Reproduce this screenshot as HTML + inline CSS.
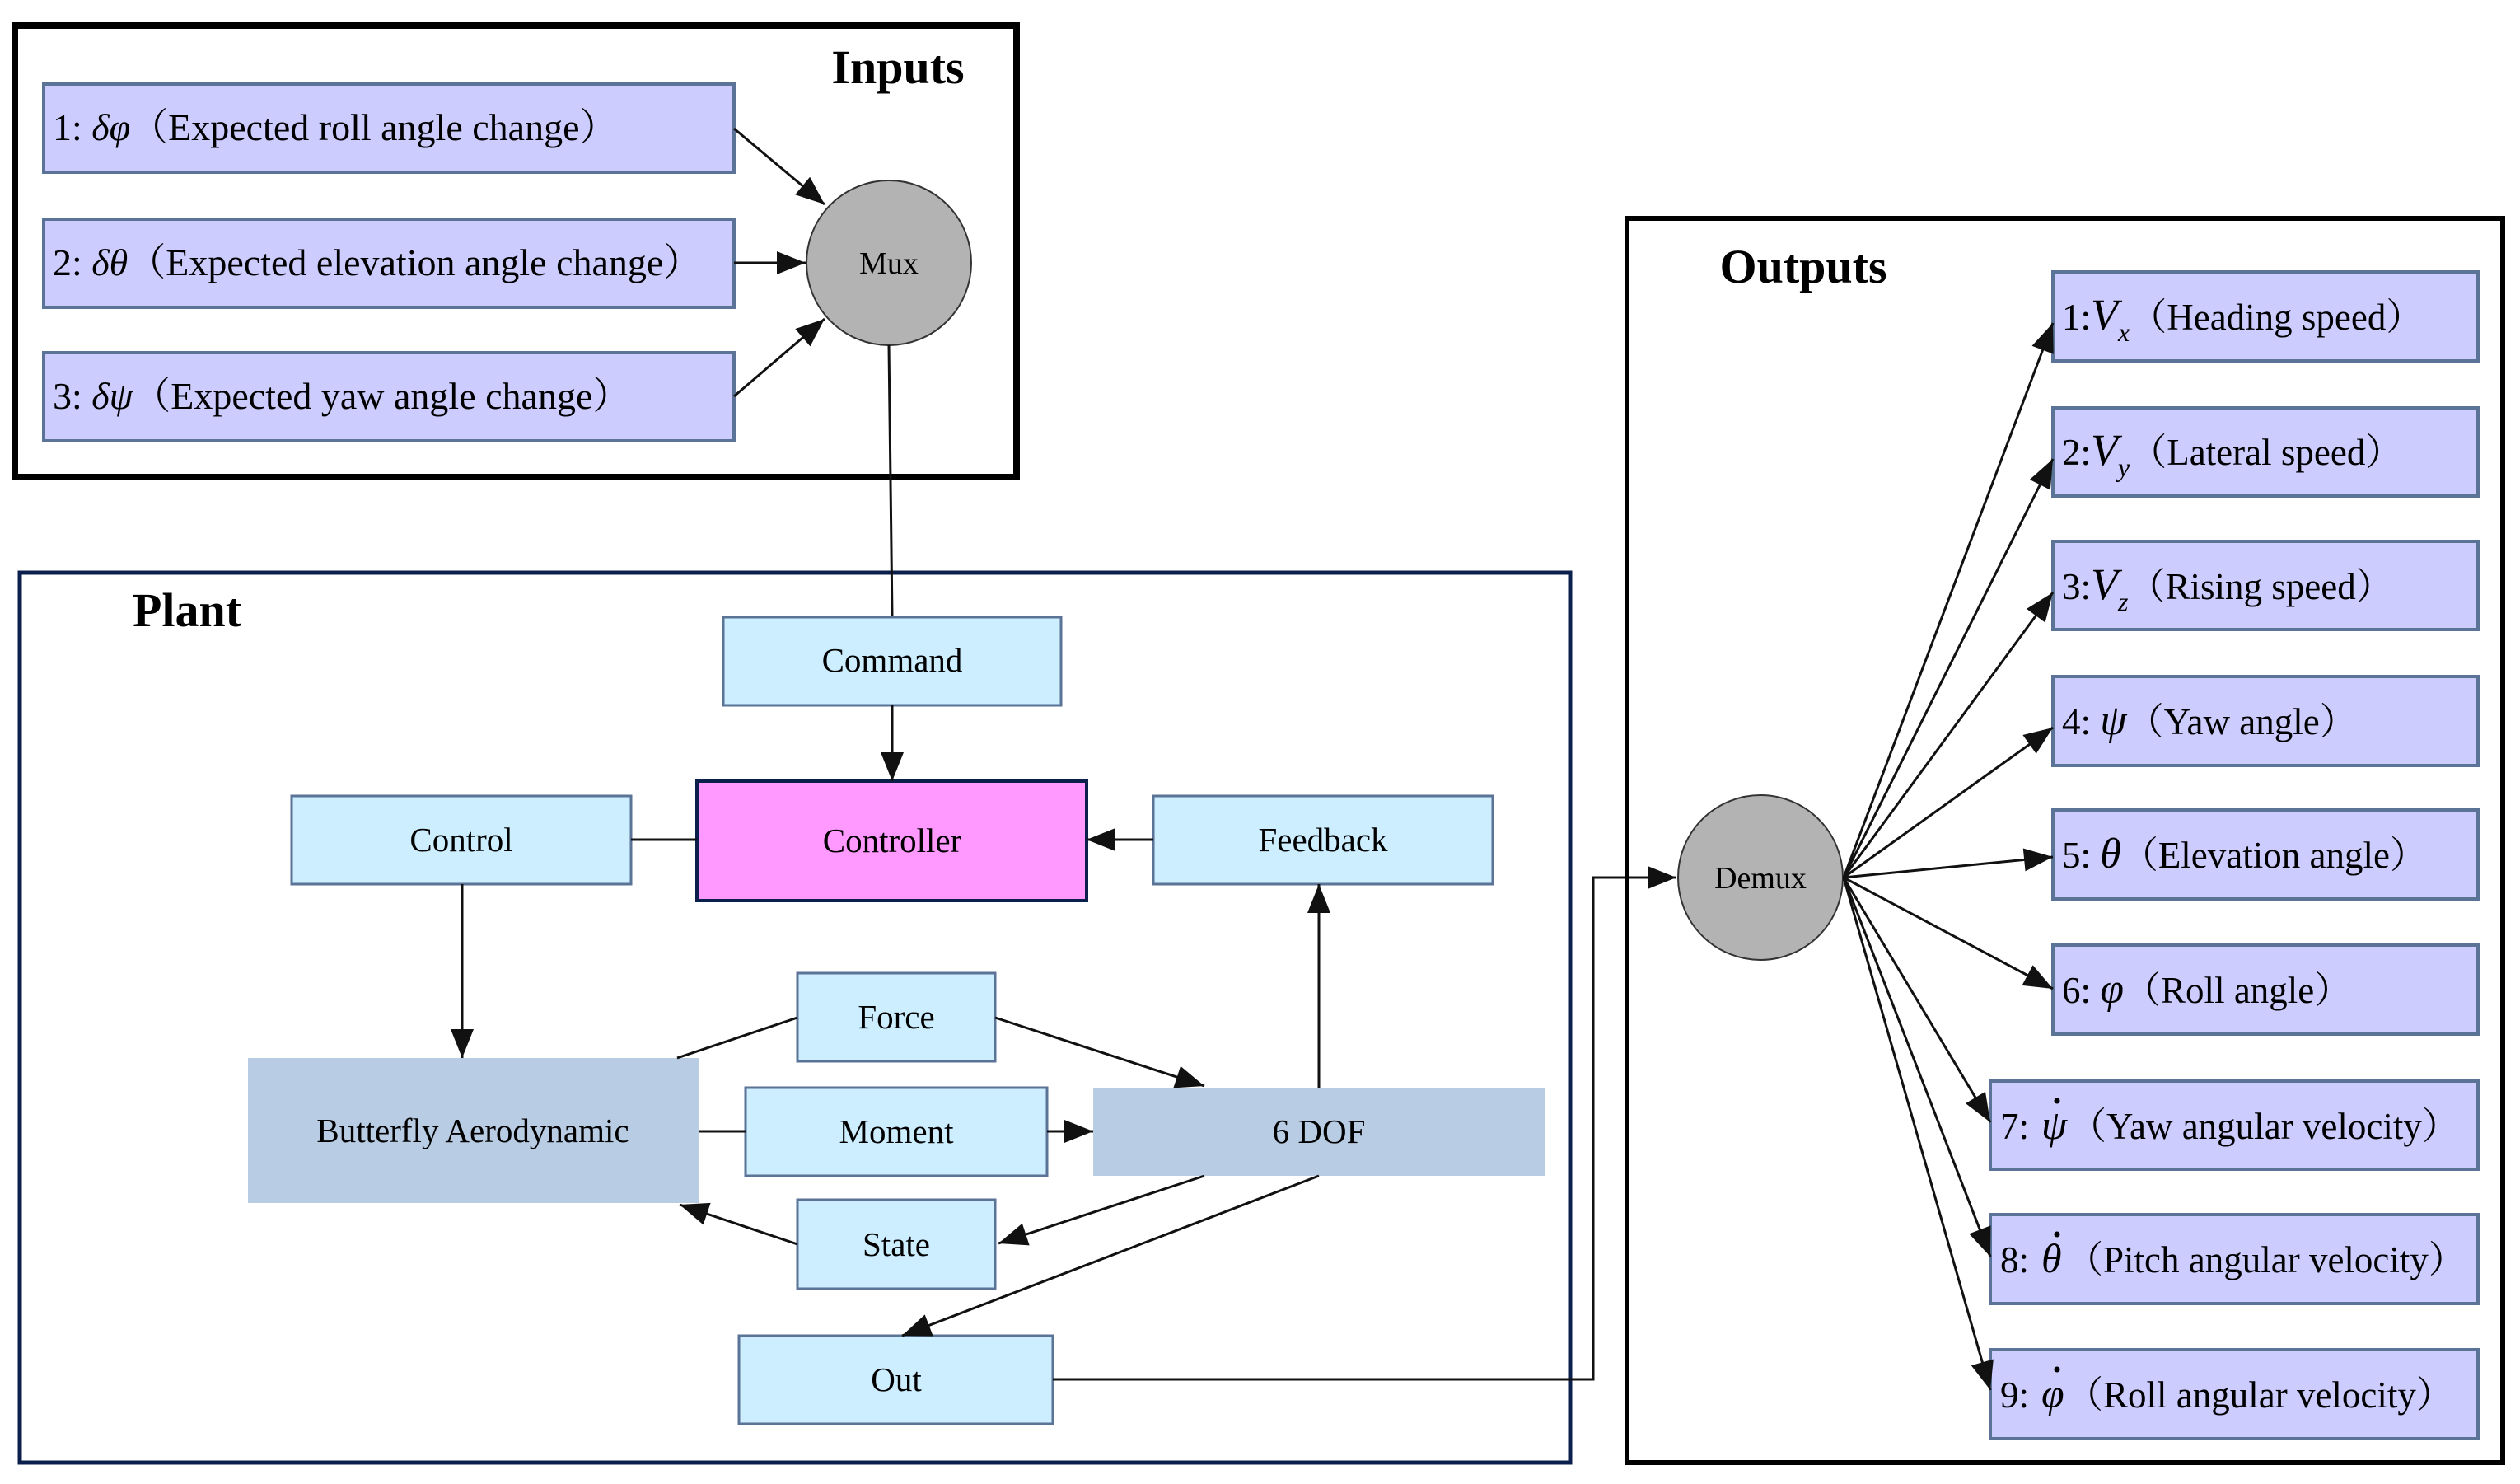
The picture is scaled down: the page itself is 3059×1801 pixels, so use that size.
<!DOCTYPE html>
<html><head><meta charset="utf-8"><style>
html,body{margin:0;padding:0;background:#fff;}
svg{display:block;}
text{font-family:"Liberation Serif","Noto Serif CJK SC",serif;}
</style></head><body>
<svg width="3059" height="1801" viewBox="0 0 3059 1801" xmlns="http://www.w3.org/2000/svg">
<defs>
<marker id="ar" viewBox="0 0 10 8" refX="10" refY="4" markerWidth="36" markerHeight="28" markerUnits="userSpaceOnUse" orient="auto">
<path d="M0,0 L10,4 L0,8 z" fill="#111"/></marker>
</defs>
<!-- Inputs -->
<rect x="18" y="31" width="1216" height="548" fill="none" stroke="#000" stroke-width="8"/>
<text x="1090" y="101" font-size="58" font-weight="bold" text-anchor="middle" font-family="Liberation Serif">Inputs</text>
<g fill="#ccccff" stroke="#5a7396" stroke-width="4">
<rect x="53" y="102" width="838" height="107"/>
<rect x="53" y="266" width="838" height="107"/>
<rect x="53" y="428" width="838" height="107"/>
</g>
<g font-size="46" font-family="Liberation Serif">
<text x="64" y="170">1: <tspan font-style="italic">δφ</tspan>（Expected roll angle change）</text>
<text x="64" y="334">2: <tspan font-style="italic">δθ</tspan>（Expected elevation angle change）</text>
<text x="64" y="496">3: <tspan font-style="italic">δψ</tspan>（Expected yaw angle change）</text>
</g>
<ellipse cx="1079" cy="319" rx="100" ry="100" fill="#b3b3b3" stroke="#333" stroke-width="2"/>
<text x="1079" y="332" font-size="38" text-anchor="middle" font-family="Liberation Serif">Mux</text>
<g stroke="#111" stroke-width="3" fill="none" marker-end="url(#ar)">
<line x1="891" y1="156" x2="1001" y2="248"/>
<line x1="891" y1="319" x2="978" y2="319"/>
<line x1="891" y1="481" x2="1001" y2="387"/>
</g>
<!-- Plant -->
<rect x="24" y="695" width="1882" height="1080" fill="none" stroke="#0b1f4d" stroke-width="5"/>
<text x="227" y="760" font-size="58" font-weight="bold" text-anchor="middle" font-family="Liberation Serif">Plant</text>
<line x1="1079" y1="419" x2="1083" y2="749" stroke="#111" stroke-width="3"/>
<g fill="#cceeff" stroke="#5a7396" stroke-width="3">
<rect x="878" y="749" width="410" height="107"/>
<rect x="354" y="966" width="412" height="107"/>
<rect x="1400" y="966" width="412" height="107"/>
<rect x="968" y="1181" width="240" height="107"/>
<rect x="905" y="1320" width="366" height="107"/>
<rect x="968" y="1456" width="240" height="108"/>
<rect x="897" y="1621" width="381" height="107"/>
</g>
<rect x="846" y="948" width="473" height="145" fill="#ff99ff" stroke="#0b1f4d" stroke-width="4"/>
<rect x="301" y="1284" width="547" height="176" fill="#b8cce4"/>
<rect x="1327" y="1320" width="548" height="107" fill="#b8cce4"/>
<g font-size="41" text-anchor="middle" font-family="Liberation Serif">
<text x="1083" y="815">Command</text>
<text x="560" y="1033">Control</text>
<text x="1606" y="1033">Feedback</text>
<text x="1083" y="1034">Controller</text>
<text x="1088" y="1248">Force</text>
<text x="574" y="1386">Butterfly Aerodynamic</text>
<text x="1088" y="1387">Moment</text>
<text x="1601" y="1387">6 DOF</text>
<text x="1088" y="1524">State</text>
<text x="1088" y="1688">Out</text>
</g>
<g stroke="#111" stroke-width="3" fill="none">
<line x1="766" y1="1019" x2="846" y2="1019"/>
<line x1="822" y1="1284" x2="968" y2="1235"/>
<line x1="848" y1="1373" x2="905" y2="1373"/>
<polyline points="1278,1674 1934,1674 1934,1065 2035,1065" marker-end="url(#ar)"/>
<g marker-end="url(#ar)">
<line x1="1083" y1="856" x2="1083" y2="948"/>
<line x1="1400" y1="1019" x2="1319" y2="1019"/>
<line x1="561" y1="1073" x2="561" y2="1284"/>
<line x1="1208" y1="1235" x2="1462" y2="1318"/>
<line x1="1271" y1="1373" x2="1327" y2="1373"/>
<line x1="1601" y1="1320" x2="1601" y2="1073"/>
<line x1="1462" y1="1427" x2="1212" y2="1509"/>
<line x1="968" y1="1510" x2="825" y2="1462"/>
<line x1="1601" y1="1427" x2="1095" y2="1621"/>
</g>
</g>
<!-- Outputs -->
<rect x="1975" y="265" width="1063" height="1510" fill="none" stroke="#000" stroke-width="6"/>
<text x="2189" y="343" font-size="58" font-weight="bold" text-anchor="middle" font-family="Liberation Serif">Outputs</text>
<ellipse cx="2137" cy="1065" rx="100" ry="100" fill="#b3b3b3" stroke="#333" stroke-width="2"/>
<text x="2137" y="1078" font-size="38" text-anchor="middle" font-family="Liberation Serif">Demux</text>
<g fill="#ccccff" stroke="#5a7396" stroke-width="4">
<rect x="2492" y="330" width="516" height="108"/>
<rect x="2492" y="495" width="516" height="107"/>
<rect x="2492" y="657" width="516" height="107"/>
<rect x="2492" y="821" width="516" height="108"/>
<rect x="2492" y="983" width="516" height="108"/>
<rect x="2492" y="1147" width="516" height="108"/>
<rect x="2416" y="1312" width="592" height="107"/>
<rect x="2416" y="1474" width="592" height="108"/>
<rect x="2416" y="1638" width="592" height="108"/>
</g>
<g font-size="45" font-family="Liberation Serif">
<text x="2503" y="400">1:<tspan font-style="italic" font-size="54">V</tspan><tspan font-style="italic" font-size="32" dy="14">x</tspan><tspan dy="-14">（Heading speed）</tspan></text>
<text x="2503" y="564">2:<tspan font-style="italic" font-size="54">V</tspan><tspan font-style="italic" font-size="32" dy="14">y</tspan><tspan dy="-14">（Lateral speed）</tspan></text>
<text x="2503" y="727">3:<tspan font-style="italic" font-size="54">V</tspan><tspan font-style="italic" font-size="32" dy="14">z</tspan><tspan dy="-14">（Rising speed）</tspan></text>
<text x="2503" y="891">4: <tspan font-style="italic" font-size="52">ψ</tspan>（Yaw angle）</text>
<text x="2503" y="1053">5: <tspan font-style="italic" font-size="52">θ</tspan>（Elevation angle）</text>
<text x="2503" y="1217">6: <tspan font-style="italic" font-size="52">φ</tspan>（Roll angle）</text>
<text x="2428" y="1382">7: </text><text x="2478" y="1382" font-style="italic" font-size="50">ψ</text><text x="2512" y="1382">（Yaw angular velocity）</text>
<text x="2428" y="1544">8: </text><text x="2478" y="1544" font-style="italic" font-size="50">θ</text><text x="2508" y="1544">（Pitch angular velocity）</text>
<text x="2428" y="1708">9: </text><text x="2478" y="1708" font-style="italic" font-size="50">φ</text><text x="2508" y="1708">（Roll angular velocity）</text>
</g>
<g fill="#000">
<circle cx="2497" cy="1336" r="3.5"/>
<circle cx="2497" cy="1498" r="3.5"/>
<circle cx="2497" cy="1662" r="3.5"/>
</g>
<g stroke="#111" stroke-width="3" fill="none" marker-end="url(#ar)">
<line x1="2238" y1="1065" x2="2492" y2="392"/>
<line x1="2238" y1="1065" x2="2492" y2="557"/>
<line x1="2238" y1="1065" x2="2492" y2="719"/>
<line x1="2238" y1="1065" x2="2492" y2="883"/>
<line x1="2238" y1="1065" x2="2492" y2="1040"/>
<line x1="2238" y1="1065" x2="2492" y2="1200"/>
<line x1="2238" y1="1065" x2="2416" y2="1362"/>
<line x1="2238" y1="1065" x2="2416" y2="1525"/>
<line x1="2238" y1="1065" x2="2416" y2="1687"/>
</g>
</svg>
</body></html>
